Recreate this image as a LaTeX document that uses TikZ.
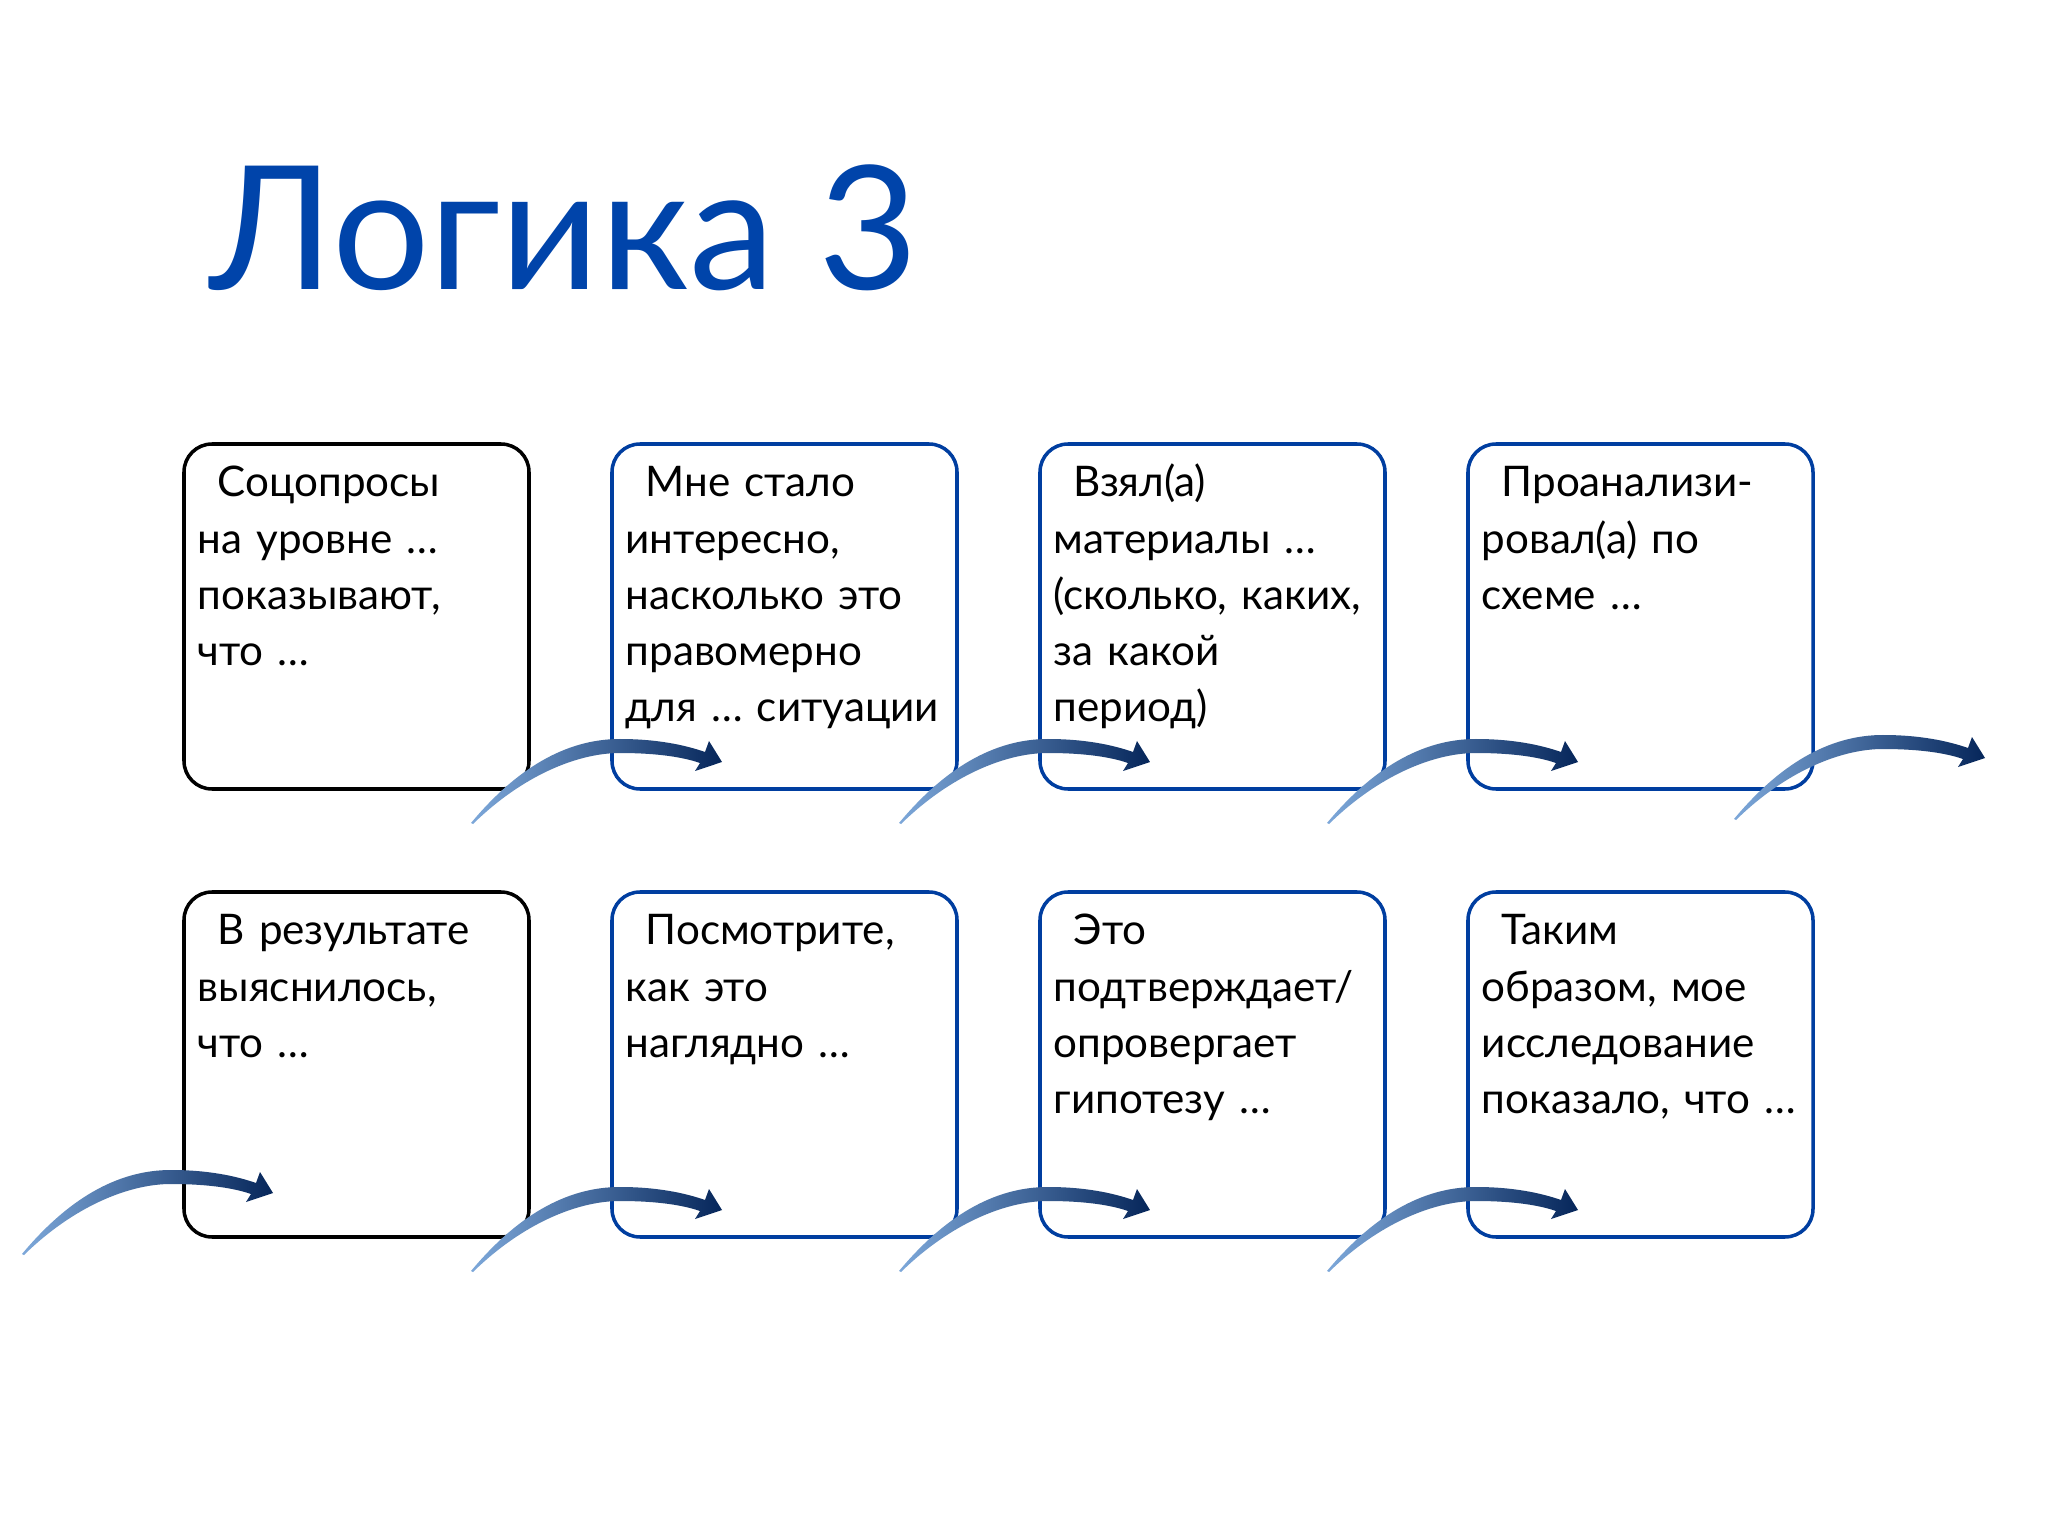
\documentclass[tikz,border=0pt]{standalone}
\usepackage{fontspec}
\setmainfont{Lato}
\usetikzlibrary{positioning,calc}

\definecolor{titleblue}{RGB}{0,68,170}
\definecolor{boxblue}{RGB}{0,62,160}
\definecolor{arrlight}{RGB}{125,168,218}
\definecolor{arrmid}{RGB}{40,88,160}
\definecolor{arrdark}{RGB}{6,38,90}

\tikzset{
  card/.style={draw=boxblue, line width=1pt, rounded corners=0.28cm,
    minimum width=3.45cm, minimum height=3.45cm, inner sep=0pt, outer sep=0pt},
  blackcard/.style={card, draw=black},
  cardtext/.style={anchor=base west, inner sep=0pt, text width=3.6cm, align=left,
    font=\fontsize{12}{15.94}\selectfont},
  bendarrow/.pic={
    \shade[left color=arrlight, middle color=arrmid, right color=arrdark]
      (-0.58,-0.34) .. controls (-0.07,0.27) and (0.43,0.50) .. (0.91,0.50)
      .. controls (1.28,0.50) and (1.56,0.44) .. (1.76,0.37)
      -- (1.80,0.48) -- (1.93,0.27) -- (1.66,0.18) -- (1.71,0.26)
      .. controls (1.51,0.33) and (1.22,0.36) .. (0.91,0.36)
      .. controls (0.48,0.36) and (-0.07,0.13) .. (-0.56,-0.35) -- cycle;
  }
}

\begin{document}
\begin{tikzpicture}
  \fill[white] (0,0) rectangle (20.48,-15.36);
  \useasboundingbox (0,0) rectangle (20.48,-15.36);

  \node[anchor=base west, inner sep=0pt, text=titleblue,
    font=\fontsize{49}{58}\selectfont] (title) at (2.09,-2.90) {Логика 3};

  % first row
  \node[blackcard] (sozo) at (3.565,-6.165) {};
  \node[card, right=0.83cm of sozo] (interes) {};
  \node[card, right=0.83cm of interes] (vzyal) {};
  \node[card, right=0.83cm of vzyal] (analiz) {};
  % second row
  \node[blackcard, below=1.03cm of sozo] (itog) {};
  \node[card, right=0.83cm of itog] (posmotri) {};
  \node[card, right=0.83cm of posmotri] (gipot) {};
  \node[card, right=0.83cm of gipot] (vyvod) {};

  \node[cardtext] (sozo-t) at ($(sozo.north west)+(0.13,-0.53)$)
    {\hspace*{0.2cm}Соцопросы\\на уровне …\\показывают,\\что …};
  \node[cardtext] (interes-t) at ($(interes.north west)+(0.13,-0.53)$)
    {\hspace*{0.2cm}Мне стало\\интересно,\\насколько это\\правомерно\\для … ситуации};
  \node[cardtext] (vzyal-t) at ($(vzyal.north west)+(0.13,-0.53)$)
    {\hspace*{0.2cm}Взял(а)\\материалы …\\(сколько, каких,\\за какой\\период)};
  \node[cardtext] (analiz-t) at ($(analiz.north west)+(0.13,-0.53)$)
    {\hspace*{0.2cm}Проанализи-\\ровал(а) по\\схеме …};
  \node[cardtext] (itog-t) at ($(itog.north west)+(0.13,-0.53)$)
    {\hspace*{0.2cm}В результате\\выяснилось,\\что …};
  \node[cardtext] (posmotri-t) at ($(posmotri.north west)+(0.13,-0.53)$)
    {\hspace*{0.2cm}Посмотрите,\\как это\\наглядно …};
  \node[cardtext] (gipot-t) at ($(gipot.north west)+(0.13,-0.53)$)
    {\hspace*{0.2cm}Это\\подтверждает/\\опровергает\\гипотезу …};
  \node[cardtext] (vyvod-t) at ($(vyvod.north west)+(0.13,-0.53)$)
    {\hspace*{0.2cm}Таким\\образом, мое\\исследование\\показало, что …};

  % arrows
  \pic at (sozo.south east) {bendarrow};
  \pic at (interes.south east) {bendarrow};
  \pic at (vzyal.south east) {bendarrow};
  \pic at ($(analiz.south east)+(-0.21,0.04)$) {bendarrow};
  \pic at ($(itog.south west)+(-1.04,0.17)$) {bendarrow};
  \pic at (itog.south east) {bendarrow};
  \pic at (posmotri.south east) {bendarrow};
  \pic at (gipot.south east) {bendarrow};
\end{tikzpicture}
\end{document}
